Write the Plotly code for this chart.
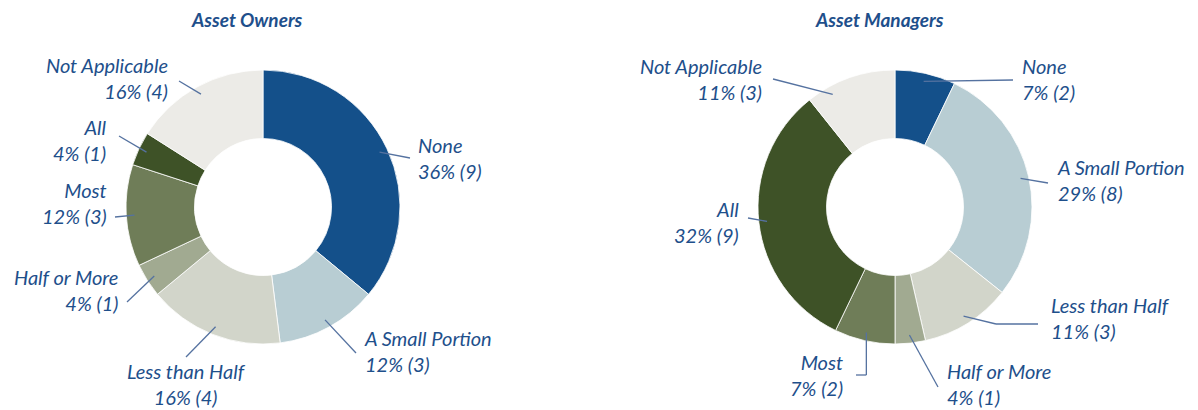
import math
import plotly.graph_objects as go

# ---------------- data ----------------
categories = ["None", "A Small Portion", "Less than Half", "Half or More",
              "Most", "All", "Not Applicable"]
owners_counts = [9, 3, 4, 1, 3, 1, 4]
owners_pct = [36, 12, 16, 4, 12, 4, 16]
managers_counts = [2, 8, 3, 1, 2, 9, 3]
managers_pct = [7, 29, 11, 4, 7, 32, 11]
titles = ["Asset Owners", "Asset Managers"]

colors = ["#14508A", "#B8CDD3", "#D2D5CA", "#A1AA91", "#6F7D58", "#3E5227", "#ECEBE7"]

W, H = 1198, 410
R = 137
TEXT_COLOR = "#1E4F8B"
LINE_COLOR = "#5572A0"
FONT = "Lato, 'Open Sans', sans-serif"

# layout for each chart: center (px), title position, label placements
charts = [
    dict(counts=owners_counts, pct=owners_pct, center=(263, 207), title_xy=(247, 19),
         labels={
             "None": dict(xy=(416, 158), align="left", path=[(410, 158)]),
             "A Small Portion": dict(xy=(362, 351), align="left", path=[(356, 353)]),
             "Less than Half": dict(xy=(186, 384), align="center", path=[(186, 357)]),
             "Half or More": dict(xy=(120, 290), align="right", path=[(127, 302)]),
             "Most": dict(xy=(109, 203), align="right", path=[(115, 217)]),
             "All": dict(xy=(109, 140), align="right", path=[(119, 136)]),
             "Not Applicable": dict(xy=(170, 78), align="right", path=[(179, 81)]),
         }),
    dict(counts=managers_counts, pct=managers_pct, center=(895, 207), title_xy=(879, 19),
         labels={
             "None": dict(xy=(1020, 79), align="left", path=[(1013, 80)]),
             "A Small Portion": dict(xy=(1055, 180), align="left", path=[(1048, 183)]),
             "Less than Half": dict(xy=(1049, 318), align="left", path=[(996, 324), (1038, 324)]),
             "Half or More": dict(xy=(945, 384), align="left", path=[(938, 387)]),
             "Most": dict(xy=(845, 375), align="right", path=[("tip", 375), (856, 375)]),
             "All": dict(xy=(741, 222), align="right", path=[(748, 218)]),
             "Not Applicable": dict(xy=(764, 79), align="right", path=[(773, 79)], frac=0.25),
         }),
]


def px(x):
    return x / W


def py(y):
    return 1 - y / H


fig = go.Figure()
shapes = []
annotations = []

for ch in charts:
    cx, cy = ch["center"]
    fig.add_trace(go.Pie(
        labels=categories, values=ch["counts"], hole=0.5, sort=False,
        direction="clockwise", rotation=0,
        marker=dict(colors=colors, line=dict(color="white", width=0.8)),
        textinfo="none", hoverinfo="label+value+percent", showlegend=False,
        domain=dict(x=[px(cx - R), px(cx + R)], y=[py(cy + R), py(cy - R)]),
    ))
    total = sum(ch["counts"])
    cum = 0
    for cat, cnt, pc in zip(categories, ch["counts"], ch["pct"]):
        spec = ch["labels"][cat]
        f = spec.get("frac", 0.5)
        ang = (cum + f * cnt) / total * 2 * math.pi
        cum += cnt
        rt = 0.94 * R
        tx = cx + rt * math.sin(ang)
        ty = cy - rt * math.cos(ang)
        pts = [(tx, ty)]
        for p in spec["path"]:
            x = tx if p[0] == "tip" else p[0]
            pts.append((x, p[1]))
        for (x0, y0), (x1, y1) in zip(pts[:-1], pts[1:]):
            shapes.append(dict(type="line", xref="paper", yref="paper",
                               x0=px(x0), y0=py(y0), x1=px(x1), y1=py(y1),
                               line=dict(color=LINE_COLOR, width=1.3), layer="above"))
        lx, ly = spec["xy"]
        annotations.append(dict(
            x=px(lx), y=py(ly), xref="paper", yref="paper", showarrow=False,
            text=f"<i>{cat}<br>{pc}% ({cnt})</i>", align=spec["align"],
            xanchor=spec["align"] if spec["align"] != "center" else "center",
            yanchor="middle", font=dict(family=FONT, size=20, color=TEXT_COLOR)))

for ch, t in zip(charts, titles):
    tx, ty = ch["title_xy"]
    annotations.append(dict(
        x=px(tx), y=py(ty), xref="paper", yref="paper", showarrow=False,
        text=f"<b><i>{t}</i></b>", xanchor="center", yanchor="middle",
        font=dict(family=FONT, size=19, color=TEXT_COLOR)))

fig.update_layout(
    width=W, height=H, margin=dict(l=0, r=0, t=0, b=0),
    paper_bgcolor="white", plot_bgcolor="white",
    shapes=shapes, annotations=annotations, showlegend=False,
)

fig.write_html("out.html", config={"displayModeBar": False},
               post_script="document.body.style.margin='0';document.body.style.overflow='hidden';")
